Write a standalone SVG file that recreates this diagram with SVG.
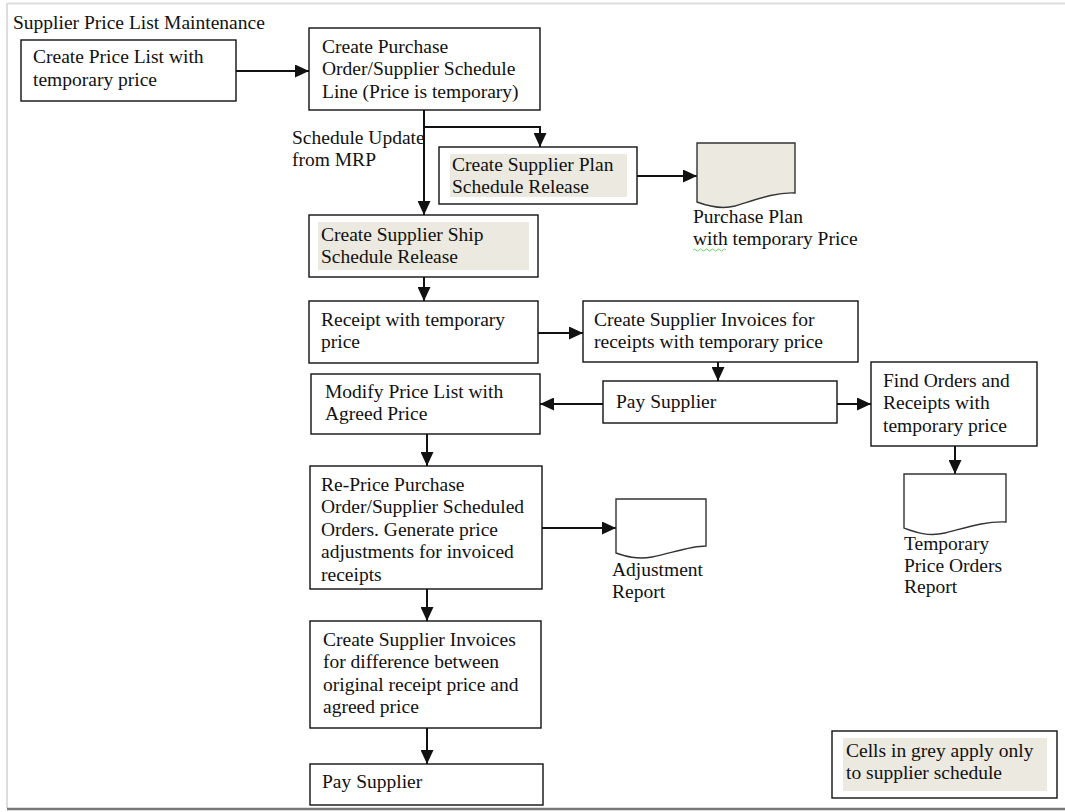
<svg xmlns="http://www.w3.org/2000/svg" width="1065" height="812" viewBox="0 0 1065 812">
<style>
text{font-family:"Liberation Serif","Times New Roman",serif;font-size:19.5px;fill:#111}
.box{fill:#fff;stroke:#111;stroke-width:1.4}
.grey{fill:#ECE9E0;stroke:none}
.doc{fill:#fff;stroke:#333;stroke-width:1.4}
.docg{fill:#ECE9E0;stroke:#333;stroke-width:1.4}
.con{fill:none;stroke:#111;stroke-width:2;marker-end:url(#ah)}
</style>
<defs>
<marker id="ah" markerUnits="userSpaceOnUse" markerWidth="15" markerHeight="13" refX="14" refY="6.5" orient="auto">
<path d="M0,0 L14,6.5 L0,13 Z" fill="#111"/>
</marker>
</defs>
<rect x="0" y="0" width="1065" height="812" fill="#fff"/>
<g id="frame">
<line x1="8" y1="3.5" x2="1065" y2="3.5" stroke="#ddd" stroke-width="2"/>
<line x1="7" y1="3" x2="7" y2="808" stroke="#ddd" stroke-width="2"/>
<line x1="7" y1="809" x2="1065" y2="809" stroke="#777" stroke-width="2.5"/>
</g>
<g id="title"><text x="13" y="29">Supplier Price List Maintenance</text></g>
<g id="connectors">
<line class="con" x1="236" y1="71" x2="309" y2="71"/>
<line class="con" x1="424" y1="110" x2="424" y2="215"/>
<polyline class="con" points="424,127 540,127 540,147"/>
<line class="con" x1="637" y1="176" x2="697" y2="176"/>
<line class="con" x1="424" y1="277" x2="424" y2="301"/>
<line class="con" x1="538" y1="333" x2="583" y2="333"/>
<line class="con" x1="718" y1="362" x2="718" y2="381"/>
<line class="con" x1="603" y1="404" x2="540" y2="404"/>
<line class="con" x1="837" y1="404" x2="871" y2="404"/>
<line class="con" x1="955" y1="446" x2="955" y2="474"/>
<line class="con" x1="427" y1="434" x2="427" y2="466"/>
<line class="con" x1="542" y1="528" x2="616" y2="528"/>
<line class="con" x1="427" y1="589" x2="427" y2="621"/>
<line class="con" x1="427" y1="728" x2="427" y2="764"/>
</g>
<g id="label-mrp"><text x="292" y="144">Schedule Update</text><text x="292" y="166">from MRP</text></g>
<g id="n-create-price-list">
<rect class="box" x="21" y="40" width="215" height="61"/>
<text x="33" y="63">Create Price List with</text><text x="33" y="86">temporary price</text>
</g>
<g id="n-create-po">
<rect class="box" x="309" y="28" width="231" height="82"/>
<text x="322" y="53">Create Purchase</text><text x="322" y="75">Order/Supplier Schedule</text><text x="322" y="98">Line (Price is temporary)</text>
</g>
<g id="n-plan-release">
<rect class="box" x="439" y="147" width="198" height="57"/>
<rect class="grey" x="450" y="154" width="177" height="43"/>
<text x="452" y="171">Create Supplier Plan</text><text x="452" y="193">Schedule Release</text>
</g>
<g id="n-purchase-plan">
<path class="docg" d="M697,143 H795 V193 C775,192 755,200 735,206 C720,210 705,205 697,202 Z"/>
<text x="693" y="223">Purchase Plan</text><text x="693" y="245">with temporary Price</text>
<path d="M693,250 q1.5,-2 3,0 t3,0 t3,0 t3,0 t3,0 t3,0 t3,0 t3,0 t3,0 t3,0 t3,0" fill="none" stroke="#4c4" stroke-width="0.8"/>
</g>
<g id="n-ship-release">
<rect class="box" x="309" y="215" width="229" height="62"/>
<rect class="grey" x="318" y="222" width="211" height="48"/>
<text x="321" y="241">Create Supplier Ship</text><text x="321" y="263">Schedule Release</text>
</g>
<g id="n-receipt">
<rect class="box" x="309" y="301" width="229" height="62"/>
<text x="321" y="326">Receipt with temporary</text><text x="321" y="348">price</text>
</g>
<g id="n-invoices">
<rect class="box" x="583" y="301" width="275" height="61"/>
<text x="594" y="326">Create Supplier Invoices for</text><text x="594" y="348">receipts with temporary price</text>
</g>
<g id="n-pay1">
<rect class="box" x="603" y="381" width="234" height="42"/>
<text x="616" y="408">Pay Supplier</text>
</g>
<g id="n-modify">
<rect class="box" x="311" y="374" width="229" height="60"/>
<text x="325" y="398">Modify Price List with</text><text x="325" y="420">Agreed Price</text>
</g>
<g id="n-find">
<rect class="box" x="871" y="362" width="166" height="84"/>
<text x="883" y="387">Find Orders and</text><text x="883" y="409">Receipts with</text><text x="883" y="432">temporary price</text>
</g>
<g id="n-temp-report">
<path class="doc" d="M904,474 H1006 V522 C985,521 965,528 945,533 C928,537 915,532 904,528 Z"/>
<text x="904" y="550">Temporary</text><text x="904" y="572">Price Orders</text><text x="904" y="593">Report</text>
</g>
<g id="n-reprice">
<rect class="box" x="310" y="466" width="232" height="123"/>
<text x="321" y="491">Re-Price Purchase</text><text x="321" y="513">Order/Supplier Scheduled</text><text x="321" y="536">Orders. Generate price</text><text x="321" y="558">adjustments for invoiced</text><text x="321" y="581">receipts</text>
</g>
<g id="n-adjustment">
<path class="doc" d="M616,499 H706 V546 C690,546 672,553 652,557 C637,560 625,556 616,553 Z"/>
<text x="612" y="576">Adjustment</text><text x="612" y="598">Report</text>
</g>
<g id="n-invoices2">
<rect class="box" x="310" y="621" width="231" height="107"/>
<text x="323" y="646">Create Supplier Invoices</text><text x="323" y="668">for difference between</text><text x="323" y="691">original receipt price and</text><text x="323" y="713">agreed price</text>
</g>
<g id="n-pay2">
<rect class="box" x="310" y="764" width="233" height="41"/>
<text x="322" y="788">Pay Supplier</text>
</g>
<g id="n-legend">
<rect class="box" x="832" y="731" width="225" height="67"/>
<rect class="grey" x="843" y="738" width="204" height="53"/>
<text x="846" y="757">Cells in grey apply only</text><text x="846" y="779">to supplier schedule</text>
</g>
</svg>
